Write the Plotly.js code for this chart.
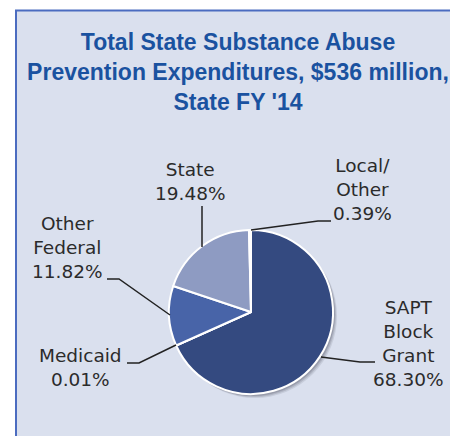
<!DOCTYPE html>
<html><head><meta charset="utf-8">
<script src="https://cdn.plot.ly/plotly-3.0.1.min.js"></script>
<style>html,body{margin:0;padding:0;background:#fff}</style>
</head><body>
<div id="chart" style="width:450px;height:436px"></div>
<script>
const categories = ["SAPT Block Grant", "Medicaid", "Other Federal", "State", "Local/Other"];
const labelLines = ["SAPT<br>Block<br>Grant", "Medicaid", "Other<br>Federal", "State", "Local/<br>Other"];
const shares = [68.30, 0.01, 11.82, 19.48, 0.39];
const colors = ["#344a80", "#344a80", "#4864a8", "#8e9bc2", "#eef1f8"];

const W = 450, H = 436;
const px = x => x / W, py = y => 1 - y / H;
// pie geometry (pixels)
const cx = 251, cy = 312, r = 82;

// label anchor positions (pixels) per category
const labelPos = [[408, 343], [80, 367], [67, 247], [190, 181], [362, 190]];
// leader lines (pixels)
const leaders = [
  [[321, 357], [360, 362], [375, 362]],
  [[127, 363], [139, 363], [176, 345]],
  [[107, 279], [119, 279], [170, 315]],
  [[202, 206], [202, 247]],
  [[251, 230], [318, 221], [331, 221]]
];

const trace = {
  type: "pie",
  labels: categories,
  values: shares,
  sort: false,
  direction: "clockwise",
  rotation: 0,
  textinfo: "none",
  hoverinfo: "label+percent",
  marker: {colors: colors, line: {color: "#ffffff", width: 2}},
  domain: {x: [px(cx - r), px(cx + r)], y: [py(cy + r), py(cy - r)]},
  showlegend: false
};

const annotations = categories.map((c, i) => ({
  xref: "paper", yref: "paper",
  x: px(labelPos[i][0]), y: py(labelPos[i][1]),
  xanchor: "center", yanchor: "middle", align: "center",
  showarrow: false,
  text: labelLines[i] + "<br>" + shares[i].toFixed(2) + "%",
  font: {family: "DejaVu Sans", size: 18.5, color: "#2b2b2b"}
}));

const shadow = [[4, 0.10], [3, 0.14], [2, 0.18]].map(([d, a]) => ({
  type: "circle", xref: "paper", yref: "paper", layer: "below",
  x0: px(cx - r + d), x1: px(cx + r + d), y0: py(cy + r + d), y1: py(cy - r + d),
  fillcolor: "rgba(40,40,60," + a + ")", line: {width: 0}
}));

const shapes = [{
  type: "rect", xref: "paper", yref: "paper", layer: "below",
  x0: px(16), x1: px(452), y0: py(440), y1: py(10.5),
  fillcolor: "#dae0ee", line: {color: "#4b6cc0", width: 2}
}].concat(shadow).concat(leaders.map(pts => ({
  type: "path", xref: "paper", yref: "paper",
  path: pts.map((p, k) => (k ? "L" : "M") + px(p[0]) + "," + py(p[1])).join(" "),
  line: {color: "#222222", width: 1.5}
})));

const layout = {
  width: W, height: H,
  margin: {l: 0, r: 0, t: 0, b: 0},
  paper_bgcolor: "#ffffff",
  title: {
    text: "Total State Substance Abuse<br>Prevention Expenditures, $536 million,<br>State FY '14",
    font: {family: "Liberation Sans", size: 23, color: "#1a52a0", weight: "bold"},
    x: px(238), xanchor: "center",
    y: py(50), yref: "container", yanchor: "top"
  },
  annotations: annotations,
  shapes: shapes
};

Plotly.newPlot("chart", [trace], layout, {displayModeBar: false, staticPlot: true});
</script>
</body></html>
